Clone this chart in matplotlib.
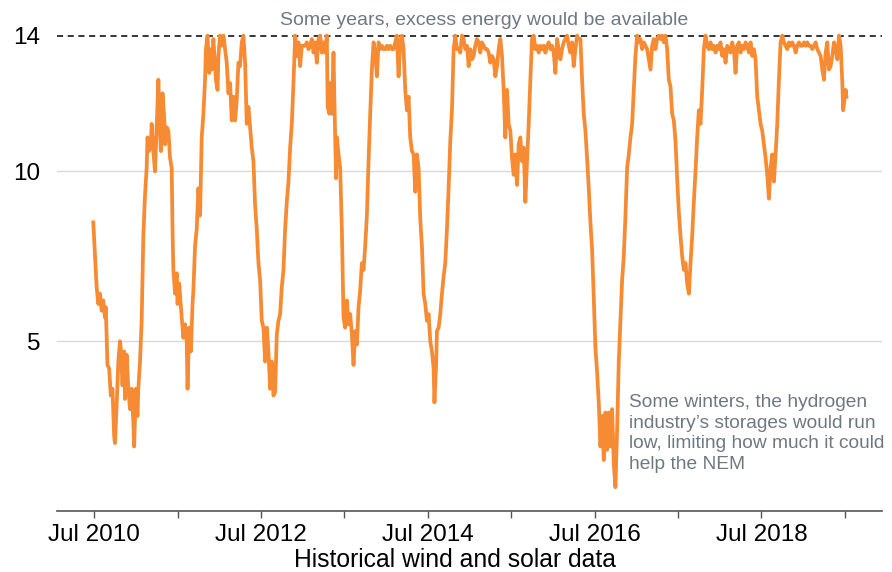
import matplotlib
matplotlib.use("Agg")
import matplotlib.pyplot as plt

plt.rcParams["font.family"] = ["Liberation Sans", "DejaVu Sans"]

# (decimal year, stored energy), one list per stretch
SEASON_2010 = [
    (2010.49, 8.5), (2010.53, 6.6), (2010.55, 6.1), (2010.57, 6.4), (2010.59, 5.9),
    (2010.61, 6.2), (2010.63, 5.7), (2010.64, 6.0), (2010.66, 4.3), (2010.68, 4.2),
    (2010.70, 3.4), (2010.72, 3.6), (2010.74, 2.2), (2010.75, 2.0), (2010.77, 3.1),
    (2010.79, 4.4), (2010.81, 5.0), (2010.82, 4.8), (2010.84, 3.7), (2010.86, 4.7),
    (2010.87, 3.3), (2010.89, 4.6), (2010.91, 3.6), (2010.93, 3.0), (2010.95, 3.6),
    (2010.97, 2.6), (2010.98, 1.9), (2011.00, 3.6), (2011.02, 2.8), (2011.03, 3.6),
    (2011.05, 4.4), (2011.07, 5.6), (2011.09, 8.1), (2011.11, 9.3), (2011.13, 10.1),
    (2011.14, 11.0), (2011.16, 10.6), (2011.18, 10.8), (2011.19, 11.4), (2011.21, 10.6),
    (2011.23, 10.0), (2011.25, 11.3), (2011.27, 12.7), (2011.29, 11.2), (2011.30, 10.6),
    (2011.32, 12.3), (2011.34, 11.6), (2011.35, 10.8), (2011.37, 11.3), (2011.39, 11.2),
    (2011.41, 10.4), (2011.43, 10.1), (2011.44, 8.3), (2011.45, 7.1), (2011.47, 6.4),
    (2011.49, 7.0), (2011.50, 6.1), (2011.52, 6.7),
]

SEASON_2011 = [
    (2011.55, 5.7), (2011.57, 5.1), (2011.59, 5.5), (2011.61, 5.0), (2011.62, 3.6),
    (2011.64, 5.4), (2011.66, 4.7), (2011.68, 6.1), (2011.69, 6.5), (2011.71, 7.8),
    (2011.73, 8.3), (2011.75, 9.5), (2011.77, 8.7), (2011.78, 9.8), (2011.79, 11.0),
    (2011.81, 11.7), (2011.83, 12.7), (2011.84, 13.6), (2011.86, 14.0), (2011.88, 12.9),
    (2011.89, 13.6), (2011.91, 13.0), (2011.93, 13.9), (2011.95, 13.1), (2011.96, 12.7),
    (2011.98, 12.4), (2011.99, 13.4), (2012.01, 14.0), (2012.03, 13.7), (2012.05, 14.0),
    (2012.07, 13.6), (2012.09, 13.2), (2012.11, 12.3), (2012.13, 12.6), (2012.15, 11.5),
    (2012.17, 12.2), (2012.19, 11.5), (2012.21, 12.1), (2012.23, 13.2), (2012.25, 13.1),
    (2012.27, 13.8), (2012.29, 14.0), (2012.31, 13.2), (2012.33, 11.4), (2012.35, 11.9),
    (2012.37, 11.3), (2012.39, 10.7), (2012.41, 10.3), (2012.43, 9.0), (2012.45, 8.3),
    (2012.47, 7.3), (2012.49, 6.8), (2012.51, 5.6), (2012.53, 5.4), (2012.55, 4.4),
    (2012.57, 5.4), (2012.59, 4.7), (2012.61, 3.6), (2012.63, 4.4), (2012.65, 3.4),
    (2012.67, 3.5),
]

SEASON_2012 = [
    (2012.69, 5.2), (2012.71, 5.6), (2012.73, 5.8), (2012.75, 6.6), (2012.77, 7.1),
    (2012.79, 8.3), (2012.81, 9.1), (2012.83, 9.7), (2012.85, 10.7), (2012.87, 11.4),
    (2012.89, 12.6), (2012.91, 14.0), (2012.93, 13.4), (2012.95, 13.8), (2012.97, 13.1),
    (2012.99, 13.7), (2013.01, 13.7), (2013.03, 13.7), (2013.05, 13.8), (2013.07, 13.6),
    (2013.09, 13.7), (2013.11, 13.9), (2013.13, 13.5), (2013.15, 13.8), (2013.17, 13.2),
    (2013.19, 13.9), (2013.21, 14.0), (2013.23, 13.5), (2013.25, 13.8), (2013.27, 13.5),
    (2013.29, 14.0), (2013.30, 11.9), (2013.32, 11.7), (2013.33, 12.6), (2013.35, 11.7),
    (2013.37, 13.5), (2013.38, 12.2), (2013.40, 9.8), (2013.41, 11.0), (2013.43, 10.5),
    (2013.45, 10.1), (2013.47, 8.3), (2013.49, 5.7), (2013.51, 5.4), (2013.53, 6.2),
    (2013.55, 5.5), (2013.57, 5.8), (2013.59, 5.2), (2013.61, 4.3), (2013.63, 5.3),
    (2013.65, 4.9), (2013.67, 6.0), (2013.69, 6.5), (2013.71, 7.3), (2013.73, 7.1),
    (2013.75, 7.8), (2013.77, 8.7), (2013.79, 10.3), (2013.81, 11.7), (2013.83, 13.0),
    (2013.85, 13.8),
]

SEASON_2014 = [
    (2013.87, 13.5), (2013.89, 12.8), (2013.91, 13.8), (2013.93, 13.6), (2013.95, 13.7),
    (2013.97, 13.6), (2013.99, 13.6), (2014.01, 13.7), (2014.03, 13.6), (2014.05, 13.7),
    (2014.07, 13.6), (2014.09, 13.6), (2014.11, 13.8), (2014.13, 14.0), (2014.15, 12.8),
    (2014.17, 13.8), (2014.19, 14.0), (2014.21, 13.6), (2014.23, 12.4), (2014.25, 11.8),
    (2014.27, 12.2), (2014.29, 11.0), (2014.31, 10.6), (2014.33, 10.5), (2014.35, 9.4),
    (2014.37, 10.5), (2014.39, 10.1), (2014.41, 8.6), (2014.43, 7.8), (2014.45, 6.4),
    (2014.47, 6.1), (2014.49, 5.6), (2014.51, 5.8), (2014.53, 5.0), (2014.55, 4.7),
    (2014.57, 4.2), (2014.58, 3.2), (2014.60, 4.3), (2014.61, 5.3), (2014.63, 5.4),
    (2014.65, 5.8), (2014.67, 6.4), (2014.69, 6.9), (2014.71, 7.3), (2014.73, 8.3),
    (2014.75, 9.5), (2014.77, 10.9), (2014.79, 11.8), (2014.81, 13.6), (2014.83, 14.0),
    (2014.85, 13.6), (2014.87, 13.6), (2014.89, 13.5), (2014.91, 14.0), (2014.93, 13.9),
    (2014.95, 13.6), (2014.97, 13.7), (2014.99, 13.1),
]

SEASON_2015 = [
    (2015.01, 13.6), (2015.03, 13.3), (2015.05, 13.4), (2015.07, 13.7), (2015.09, 13.9),
    (2015.11, 13.8), (2015.13, 13.5), (2015.15, 13.8), (2015.17, 13.7), (2015.19, 13.6),
    (2015.21, 13.6), (2015.23, 13.5), (2015.25, 13.2), (2015.27, 13.4), (2015.29, 13.3),
    (2015.31, 12.8), (2015.33, 13.1), (2015.35, 13.6), (2015.37, 13.9), (2015.39, 13.4),
    (2015.41, 12.4), (2015.43, 11.0), (2015.45, 12.4), (2015.47, 11.4), (2015.49, 11.2),
    (2015.51, 10.4), (2015.53, 9.9), (2015.55, 10.5), (2015.57, 9.6), (2015.59, 10.8),
    (2015.61, 11.0), (2015.63, 10.3), (2015.65, 10.7), (2015.67, 9.1), (2015.69, 10.3),
    (2015.71, 11.4), (2015.73, 12.7), (2015.75, 13.9), (2015.77, 14.0), (2015.79, 13.6),
    (2015.81, 13.7), (2015.83, 13.5), (2015.85, 13.7), (2015.87, 13.6), (2015.89, 13.7),
    (2015.91, 13.5), (2015.93, 13.7), (2015.95, 13.8), (2015.97, 13.6), (2015.99, 13.7),
    (2016.01, 13.5), (2016.03, 12.9), (2016.05, 13.9), (2016.07, 13.6), (2016.09, 13.3),
    (2016.11, 13.6), (2016.13, 13.8),
]

SEASON_2016 = [
    (2016.17, 14.0), (2016.19, 13.7), (2016.21, 13.5), (2016.23, 13.8), (2016.25, 13.1),
    (2016.27, 13.6), (2016.29, 14.0), (2016.31, 13.9), (2016.33, 13.9), (2016.35, 12.7),
    (2016.37, 11.7), (2016.39, 11.2), (2016.41, 10.4), (2016.43, 9.5), (2016.45, 8.5),
    (2016.47, 7.7), (2016.49, 6.3), (2016.51, 4.8), (2016.53, 4.1), (2016.55, 3.2),
    (2016.57, 1.9), (2016.59, 2.8), (2016.61, 1.5), (2016.63, 2.9), (2016.65, 1.8),
    (2016.67, 2.9), (2016.69, 1.9), (2016.71, 3.0), (2016.73, 1.4), (2016.75, 0.7),
    (2016.77, 2.4), (2016.79, 4.4), (2016.81, 5.6), (2016.83, 6.8), (2016.85, 7.5),
    (2016.87, 8.7), (2016.89, 10.1), (2016.91, 10.5), (2016.93, 11.0), (2016.95, 11.4),
    (2016.97, 12.4), (2016.99, 13.4), (2017.01, 14.0), (2017.03, 13.8), (2017.05, 13.9),
    (2017.07, 13.6), (2017.09, 13.8), (2017.11, 13.7), (2017.13, 13.6), (2017.15, 13.3),
    (2017.17, 13.0), (2017.19, 13.7), (2017.21, 13.9), (2017.23, 13.6),
]

SEASON_2017 = [
    (2017.25, 13.9), (2017.27, 14.0), (2017.29, 13.9), (2017.31, 14.0), (2017.33, 13.8),
    (2017.35, 14.0), (2017.37, 13.6), (2017.39, 12.7), (2017.41, 12.5), (2017.43, 11.7),
    (2017.45, 11.5), (2017.47, 10.9), (2017.49, 9.8), (2017.51, 8.8), (2017.53, 8.1),
    (2017.55, 7.5), (2017.57, 7.1), (2017.59, 7.3), (2017.61, 6.7), (2017.63, 6.4),
    (2017.65, 7.3), (2017.67, 8.1), (2017.69, 9.1), (2017.71, 10.0), (2017.73, 11.0),
    (2017.75, 11.8), (2017.77, 11.4), (2017.79, 12.4), (2017.81, 13.6), (2017.83, 14.0),
    (2017.85, 13.7), (2017.87, 13.6), (2017.89, 13.8), (2017.91, 13.6), (2017.93, 13.7),
    (2017.95, 13.5), (2017.97, 13.7), (2017.99, 13.6), (2018.01, 13.8), (2018.03, 13.4),
    (2018.05, 13.6), (2018.07, 13.2), (2018.09, 13.7), (2018.11, 13.6), (2018.13, 13.5),
    (2018.15, 13.8), (2018.17, 13.6), (2018.19, 12.9), (2018.21, 13.7), (2018.23, 13.8),
    (2018.25, 13.5), (2018.27, 13.7), (2018.29, 13.6), (2018.31, 13.8), (2018.33, 13.7),
    (2018.35, 13.5),
]

SEASON_2018 = [
    (2018.37, 13.8), (2018.39, 13.4), (2018.41, 13.6), (2018.43, 13.3), (2018.45, 12.2),
    (2018.47, 11.8), (2018.49, 11.4), (2018.51, 11.2), (2018.53, 10.8), (2018.55, 10.4),
    (2018.57, 9.9), (2018.59, 9.2), (2018.61, 10.1), (2018.63, 10.5), (2018.65, 9.7),
    (2018.67, 10.5), (2018.69, 11.4), (2018.71, 12.7), (2018.73, 13.8), (2018.75, 14.0),
    (2018.77, 13.8), (2018.79, 13.7), (2018.81, 13.6), (2018.83, 13.8), (2018.85, 13.7),
    (2018.87, 13.8), (2018.89, 13.7), (2018.91, 13.5), (2018.93, 13.7), (2018.95, 13.8),
    (2018.97, 13.7), (2018.99, 13.7), (2019.01, 13.8), (2019.03, 13.7), (2019.05, 13.8),
    (2019.07, 13.7), (2019.09, 13.7), (2019.11, 13.6), (2019.13, 13.7), (2019.15, 13.8),
    (2019.17, 13.6), (2019.19, 13.5), (2019.21, 13.4), (2019.23, 13.0), (2019.25, 12.7),
    (2019.27, 13.5), (2019.29, 13.8), (2019.31, 13.0), (2019.33, 13.1), (2019.35, 13.4),
    (2019.37, 13.8), (2019.39, 13.6), (2019.41, 13.3), (2019.43, 14.0), (2019.45, 13.7),
    (2019.47, 12.6), (2019.48, 11.8), (2019.49, 12.0), (2019.51, 12.4), (2019.52, 12.2),
]

CAPACITY = 14
GRID_LEVELS = [5, 10]
Y_TICKS = [5, 10, 14]
MAJOR_TICKS = [2010.5, 2012.5, 2014.5, 2016.5, 2018.5]
MAJOR_LABELS = ["Jul 2010", "Jul 2012", "Jul 2014", "Jul 2016", "Jul 2018"]
MINOR_TICKS = [2011.5, 2013.5, 2015.5, 2017.5, 2019.5]

ORANGE = "#f68b33"
NOTE_GREY = "#6f7882"

seasons = [SEASON_2010, SEASON_2011, SEASON_2012, SEASON_2014, SEASON_2015,
           SEASON_2016, SEASON_2017, SEASON_2018]
pts = [p for s in seasons for p in s]
x = [p[0] for p in pts]
y = [p[1] for p in pts]

fig = plt.figure(figsize=(8.92, 5.72), dpi=100)
ax = fig.add_axes([0.064, 0.1066, 0.925, 0.849])

for lvl in GRID_LEVELS:
    ax.axhline(lvl, color="#d9d9d9", linewidth=1, zorder=1)
ax.axhline(CAPACITY, color="black", linewidth=1.1, linestyle=(0, (4, 3)), zorder=1)

ax.plot(x, y, color=ORANGE, linewidth=2.7, solid_joinstyle="round", zorder=3)

ax.set_xlim(2010.056, 2019.948)
ax.set_ylim(0, 14.3)

ax.set_yticks(Y_TICKS)
ax.set_yticklabels([str(v) for v in Y_TICKS], fontsize=17.5)
ax.tick_params(axis="y", length=0, pad=12)

ax.set_xticks(MAJOR_TICKS)
ax.set_xticklabels(MAJOR_LABELS, fontsize=17.5)
ax.set_xticks(MINOR_TICKS, minor=True)
ax.tick_params(axis="x", which="both", length=5, width=1, color="#555555", pad=4)

for side in ["left", "right", "top"]:
    ax.spines[side].set_visible(False)
ax.spines["bottom"].set_color("#555555")
ax.spines["bottom"].set_linewidth(1.2)

fig.text(455 / 892, 5 / 572, "Historical wind and solar data",
         ha="center", va="baseline", fontsize=17.8)

ax.text(2015.176, 14.45, "Some years, excess energy would be available",
        ha="center", va="center", fontsize=14, color=NOTE_GREY)
ax.text(2016.915, 3.45,
        "Some winters, the hydrogen\nindustry\u2019s storages would run\n"
        "low, limiting how much it could\nhelp the NEM",
        ha="left", va="top", fontsize=13.8, color=NOTE_GREY, linespacing=1.28)

fig.savefig("out.png", dpi=100)
